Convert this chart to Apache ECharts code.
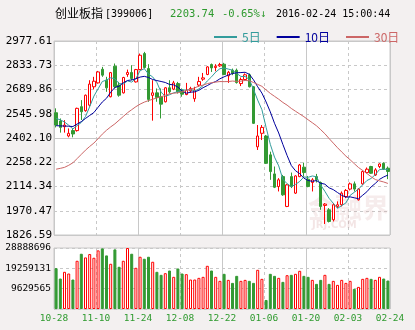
<!DOCTYPE html>
<html>
<head>
<meta charset="utf-8">
<script src="https://cdn.jsdelivr.net/npm/echarts@6/dist/echarts.min.js"></script>
<style>
  html, body { margin: 0; padding: 0; background: #f3f0f0; }
  #chart { width: 415px; height: 330px; }
</style>
</head>
<body>
<div id="chart"></div>
<script>
// ChiNext index (创业板指) daily bars, 2015-10-28 .. 2016-02-24
const dates = [
  '10-28','10-29','10-30',
  '11-02','11-03','11-04','11-05','11-06','11-09','11-10','11-11','11-12','11-13',
  '11-16','11-17','11-18','11-19','11-20','11-23','11-24','11-25','11-26','11-27','11-30',
  '12-01','12-02','12-03','12-04','12-07','12-08','12-09','12-10','12-11',
  '12-14','12-15','12-16','12-17','12-18','12-21','12-22','12-23','12-24','12-25',
  '12-28','12-29','12-30','12-31',
  '01-04','01-05','01-06','01-07','01-08','01-11','01-12','01-13','01-14','01-15',
  '01-18','01-19','01-20','01-21','01-22','01-25','01-26','01-27','01-28','01-29',
  '02-01','02-02','02-03','02-04','02-05','02-15','02-16','02-17','02-18','02-19',
  '02-22','02-23','02-24'
];

const opens = [
  2552,2503,2469,2414,2446,2446,2588,2564,2597,2706,
  2729,2810,2745,2647,2828,2716,2670,2779,2791,2735,
  2808,2903,2814,2655,2670,2647,2617,2700,2692,2725,
  2686,2660,2682,2635,2716,2751,2779,2838,2820,2830,
  2840,2771,2804,2804,2725,2749,2777,2706,2350,2430,
  2414,2302,2189,2114,2173,1996,2173,2075,2173,2229,
  2158,2138,2173,2138,2002,1976,1917,1996,2006,2055,
  2099,2130,2035,2130,2197,2233,2183,2233,2252,2223
];
const closes = [
  2479,2465,2479,2430,2426,2578,2558,2656,2722,2739,
  2794,2775,2700,2790,2706,2656,2761,2791,2755,2808,
  2893,2820,2631,2670,2643,2603,2700,2676,2729,2676,
  2662,2686,2696,2686,2737,2759,2824,2818,2828,2838,
  2779,2792,2785,2731,2749,2777,2706,2489,2414,2465,
  2252,2203,2110,2154,2065,2124,2114,2177,2242,2197,
  2114,2154,2154,1996,2010,1907,2006,2006,2075,2091,
  2130,2099,2099,2203,2217,2193,2213,2248,2217,2203.74
];
const lows = [
  2465,2434,2434,2406,2406,2440,2509,2558,2588,2690,
  2725,2765,2676,2643,2696,2647,2666,2765,2745,2731,
  2804,2814,2617,2505,2617,2518,2613,2666,2686,2666,
  2647,2656,2670,2617,2706,2741,2775,2794,2798,2824,
  2775,2729,2775,2725,2710,2745,2702,2485,2331,2390,
  2248,2154,2105,2085,2059,1992,2105,2070,2170,2173,
  2110,2085,2138,1976,1892,1901,1907,1986,1996,2045,
  2091,2085,2031,2124,2193,2189,2177,2223,2213,2158
];
const highs = [
  2578,2518,2508,2459,2459,2582,2627,2660,2745,2765,
  2800,2824,2765,2794,2844,2735,2765,2808,2834,2812,
  2903,2913,2840,2745,2696,2696,2704,2745,2741,2735,
  2696,2729,2706,2706,2765,2788,2828,2844,2840,2848,
  2848,2800,2814,2814,2761,2785,2785,2710,2479,2479,
  2420,2321,2233,2164,2183,2130,2197,2181,2248,2256,
  2177,2164,2189,2144,2016,1986,2016,2026,2085,2099,
  2138,2144,2105,2209,2227,2237,2223,2252,2258,2233
];
const volumes = [
  19350000,14430000,17610000,16810000,13960000,22840000,26170000,24430000,26020000,24270000,
  27760000,28710000,25380000,21420000,28240000,19990000,22840000,28888696,26170000,19510000,
  24750000,23800000,24750000,22370000,17610000,16180000,16970000,18240000,15230000,19190000,
  16810000,16500000,13960000,13960000,14750000,15230000,20460000,18240000,15230000,13330000,
  16660000,13800000,12370000,15700000,13330000,13800000,13330000,12370000,18560000,14280000,
  4280000,16660000,15700000,14750000,12850000,16020000,16180000,16660000,18080000,15700000,
  15230000,13800000,11900000,13800000,16180000,11900000,13330000,11420000,13800000,12370000,
  13330000,9520000,10470000,14280000,14750000,14280000,13800000,15230000,14430000,13480000
];

// Moving-average values of the days before the window starts (prior closes not listed here)
const ma5Lead = [2518, 2510, 2497, 2478];
const ma10Lead = [2475, 2474, 2473, 2472, 2470, 2485, 2499, 2518, 2536];
const ma30Lead = [
  2217,2222,2228,2240,2255,2280,2305,2330,2352,2372,
  2398,2425,2448,2468,2486,2508,2530,2552,2570,2588,
  2603,2615,2624,2632,2640,2646,2656,2664,2668
];

// Axis tick labels
const priceTicks = ['1826.59','1970.47','2114.34','2258.22','2402.10','2545.98','2689.86','2833.73','2977.61'];
const volumeTicks = ['', '9629565', '19259131', '28888696'];
const dateTicks = ['10-28','11-10','11-24','12-08','12-22','01-06','01-20','02-03','02-24'];

const UP = '#ff0000', DOWN = '#339933';
const C5 = '#339c9c', C10 = '#00009c', C30 = '#cc6666';
const GRID_LINE = '#c8c8c8';

function movingAverage(n, lead) {
  return closes.map((c, i) => {
    if (i < n - 1) return lead[i];
    let s = 0;
    for (let k = i - n + 1; k <= i; k++) s += closes[k];
    return +(s / n).toFixed(2);
  });
}

const candleData = dates.map((d, i) => [opens[i], closes[i], lows[i], highs[i]]);
const volumeData = volumes.map((v, i) => {
  const up = closes[i] >= opens[i];
  return {
    value: v,
    itemStyle: up
      ? { color: '#ffffff', borderColor: UP, borderWidth: 1 }
      : { color: DOWN, borderColor: DOWN, borderWidth: 1 }
  };
});

const monoFont = 'DejaVu Sans Mono';

function guideX(gridIndex, max, dashed, labels) {
  return {
    type: 'value', gridIndex, min: 0, max, interval: 1,
    position: 'bottom',
    axisLine: { show: false }, axisTick: { show: false },
    axisLabel: labels ? {
      show: true, color: '#2e9a2e', fontFamily: monoFont, fontSize: 9.5, margin: 5,
      formatter: v => labels[v]
    } : { show: false },
    splitLine: { show: true, lineStyle: { color: GRID_LINE, width: 1, type: dashed ? [3, 3] : 'solid' } }
  };
}
function guideY(gridIndex, max, dashed, labels, fontSize, margin) {
  return {
    type: 'value', gridIndex, min: 0, max, interval: 1,
    position: 'left',
    axisLine: { show: false }, axisTick: { show: false },
    axisLabel: labels ? {
      show: true, color: '#000', fontFamily: monoFont, fontSize, margin,
      formatter: v => labels[v]
    } : { show: false },
    splitLine: { show: true, lineStyle: { color: GRID_LINE, width: 1, type: dashed ? [3, 3] : 'solid' } }
  };
}

const chart = echarts.init(document.getElementById('chart'));
chart.setOption({
  animation: false,
  backgroundColor: '#f3f0f0',
  textStyle: { fontFamily: monoFont },
  legend: {
    left: 209, top: 26, itemWidth: 23, itemHeight: 2, itemGap: 16, icon: 'rect',
    selectedMode: false,
    textStyle: { fontFamily: 'Noto Sans CJK SC', fontSize: 12 },
    data: [
      { name: '5日', textStyle: { color: C5 } },
      { name: '10日', textStyle: { color: C10 } },
      { name: '30日', textStyle: { color: C30 } }
    ]
  },
  grid: [
    { left: 54, top: 41, width: 336, height: 194, show: true, backgroundColor: '#ffffff', borderColor: GRID_LINE, borderWidth: 1 },
    { left: 54, top: 248, width: 336, height: 61, show: true, backgroundColor: '#ffffff', borderColor: GRID_LINE, borderWidth: 1 }
  ],
  xAxis: [
    { type: 'category', gridIndex: 0, data: dates, show: false, boundaryGap: true },
    { type: 'category', gridIndex: 1, data: dates, show: false, boundaryGap: true },
    guideX(0, 8, true, null),
    guideX(0, 4, false, null),
    guideX(1, 8, true, dateTicks),
    guideX(1, 4, false, null)
  ],
  yAxis: [
    { type: 'value', gridIndex: 0, min: 1826.59, max: 2977.61, show: false },
    { type: 'value', gridIndex: 1, min: 0, max: 28888696, show: false },
    guideY(0, 8, true, priceTicks, 11, 2),
    guideY(0, 2, false, null),
    guideY(1, 3, true, volumeTicks, 9.5, 3)
  ],
  graphic: [
    { type: 'text', left: 55, top: 7, z: 10, style: { text: '创业板指', font: '12px "Noto Sans CJK SC"', fill: '#000' } },
    { type: 'text', left: 105, top: 9, z: 10, style: { text: '[399006]', font: '10px "DejaVu Sans Mono"', fill: '#000' } },
    { type: 'text', left: 170, top: 9, z: 10, style: { text: '2203.74', font: '10.5px "DejaVu Sans Mono"', fill: '#2e9a2e' } },
    { type: 'text', left: 222, top: 9, z: 10, style: { text: '-0.65%↓', font: '10.5px "DejaVu Sans Mono"', fill: '#2e9a2e' } },
    { type: 'text', left: 276, top: 9, z: 10, style: { text: '2016-02-24 15:00:44', font: '10px "DejaVu Sans Mono"', fill: '#000' } },
    { type: 'text', left: 308, top: 194, z: 1, silent: true, style: { text: '金融界', font: 'bold 27px "Noto Sans CJK SC"', fill: 'rgba(215,170,170,0.22)' } },
    { type: 'text', left: 312, top: 220, z: 1, silent: true, style: { text: 'JRJ.COM', font: 'bold 10px "DejaVu Sans"', fill: 'rgba(215,170,170,0.3)' } }
  ],
  series: [
    {
      type: 'candlestick', name: '日K', xAxisIndex: 0, yAxisIndex: 0,
      data: candleData, barWidth: 3,
      itemStyle: { color: '#ffffff', color0: DOWN, borderColor: UP, borderColor0: DOWN, borderWidth: 1 }
    },
    { type: 'line', name: '5日', xAxisIndex: 0, yAxisIndex: 0, data: movingAverage(5, ma5Lead), showSymbol: false, symbol: 'none', color: C5, lineStyle: { width: 1, color: C5 } },
    { type: 'line', name: '10日', xAxisIndex: 0, yAxisIndex: 0, data: movingAverage(10, ma10Lead), showSymbol: false, symbol: 'none', color: C10, lineStyle: { width: 1, color: C10 } },
    { type: 'line', name: '30日', xAxisIndex: 0, yAxisIndex: 0, data: movingAverage(30, ma30Lead), showSymbol: false, symbol: 'none', color: C30, lineStyle: { width: 1, color: C30 } },
    { type: 'bar', name: '成交量', xAxisIndex: 1, yAxisIndex: 1, data: volumeData, barWidth: 3 }
  ]
});
</script>
</body>
</html>
